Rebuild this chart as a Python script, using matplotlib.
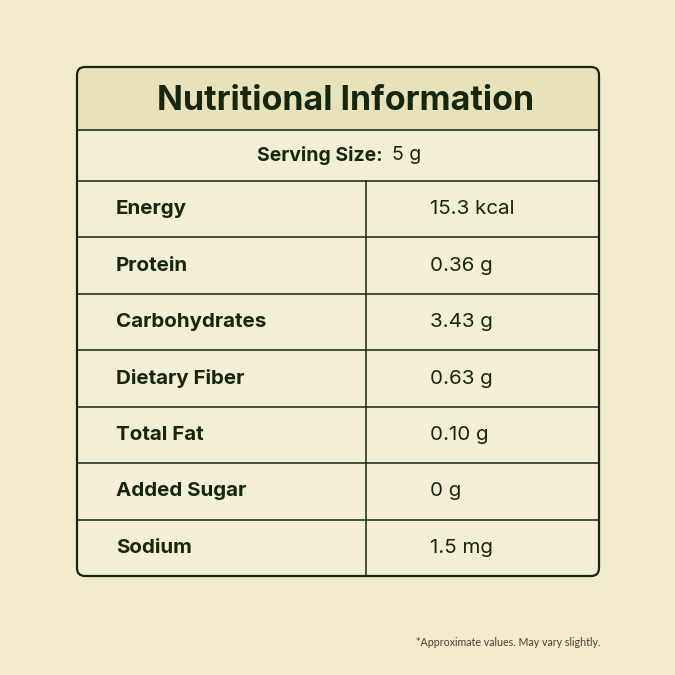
import matplotlib
matplotlib.use("Agg")
import matplotlib.pyplot as plt
from matplotlib.patches import FancyBboxPatch, Rectangle

title = "Nutritional Information"
serving_label = "Serving Size:"
serving_value = "5 g"
nutrients = ["Energy", "Protein", "Carbohydrates", "Dietary Fiber", "Total Fat", "Added Sugar", "Sodium"]
values = ["15.3 kcal", "0.36 g", "3.43 g", "0.63 g", "0.10 g", "0 g", "1.5 mg"]
footnote = "*Approximate values. May vary slightly."

BG = "#F1EACB"
HEAD = "#E7E2B9"
CELL = "#F4EED4"
INK = "#17260F"

fig = plt.figure(figsize=(6.75, 6.75), dpi=100, facecolor=BG)
ax = fig.add_axes([0, 0, 1, 1])
ax.set_xlim(0, 675); ax.set_ylim(675, 0); ax.axis("off")

L, R, T, B = 77, 599, 67, 576
head_b, serv_b, mid = 130, 181, 366
rh = (B - serv_b) / len(nutrients)

ax.add_patch(FancyBboxPatch((L, T), R - L, B - T, boxstyle="round,pad=0,rounding_size=8",
                            fc=CELL, ec="none", zorder=1))
ax.add_patch(FancyBboxPatch((L, T), R - L, head_b - T + 10, boxstyle="round,pad=0,rounding_size=8",
                            fc=HEAD, ec="none", zorder=2))
ax.add_patch(Rectangle((L, head_b), R - L, 12, fc=CELL, ec="none", zorder=2))
ax.add_patch(FancyBboxPatch((L, T), R - L, B - T, boxstyle="round,pad=0,rounding_size=8",
                            fc="none", ec=INK, lw=1.6, zorder=5))
lw = 1.1
ax.plot([L, R], [head_b, head_b], color=INK, lw=lw, zorder=4)
ax.plot([L, R], [serv_b, serv_b], color=INK, lw=lw, zorder=4)
for i in range(1, len(nutrients)):
    y = serv_b + i * rh
    ax.plot([L, R], [y, y], color=INK, lw=lw, zorder=4)
ax.plot([mid, mid], [serv_b, B], color=INK, lw=lw, zorder=4)

ax.text((L + R) / 2 + 8, (T + head_b) / 2 + 2, title, ha="center", va="center", fontsize=24.5,
        fontweight="bold", family="Inter", color=INK, zorder=6)
ax.text(383, (head_b + serv_b) / 2, serving_label, ha="right", va="center",
        fontsize=14, fontweight="bold", family="Inter", color=INK, zorder=6)
ax.text(392, (head_b + serv_b) / 2, serving_value, ha="left", va="center",
        fontsize=14, family="Inter", color=INK, zorder=6)
for i, (n, v) in enumerate(zip(nutrients, values)):
    y = serv_b + (i + 0.5) * rh
    ax.text(116, y, n, ha="left", va="center", fontsize=14.8, fontweight="bold",
            family="Inter", color=INK, zorder=6)
    ax.text(430, y, v, ha="left", va="center", fontsize=14.8, family="Inter", color=INK, zorder=6)

ax.text(600, 643, footnote, ha="right", va="center", fontsize=7.7, family="Lato",
        color="#4a4035", zorder=6)

fig.savefig("out.png", dpi=100, facecolor=BG)
